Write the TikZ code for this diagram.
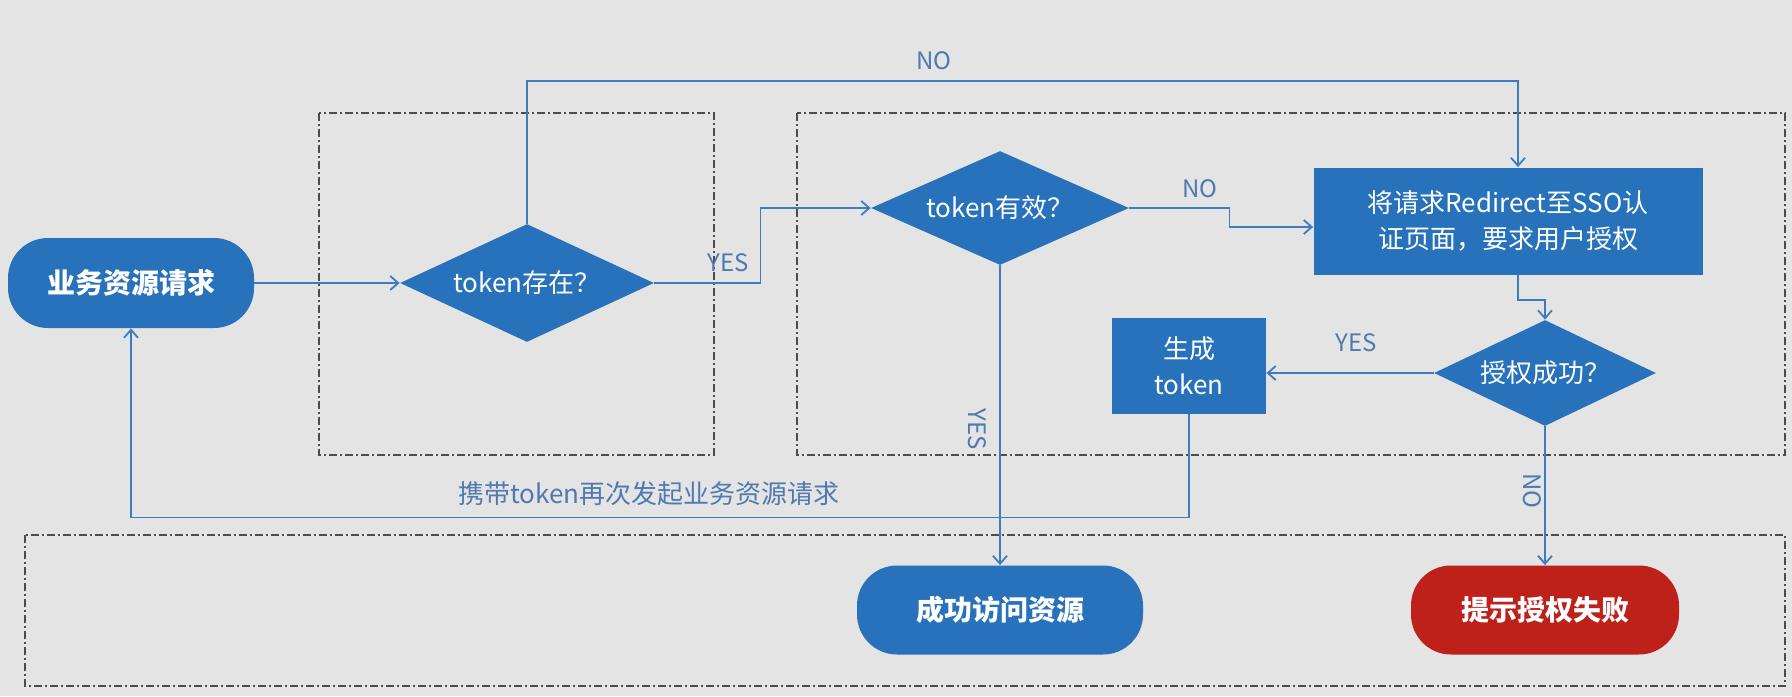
\documentclass[tikz,border=0pt]{standalone}
\usepackage{fontspec}
\newfontfamily\cjk{Noto Sans CJK SC}
\usetikzlibrary{shapes.geometric,arrows.meta}

\definecolor{flowblue}{RGB}{40,114,188}
\definecolor{flowred}{RGB}{190,32,26}
\definecolor{lineblue}{RGB}{62,124,192}
\definecolor{labelblue}{RGB}{78,122,176}
\definecolor{paper}{RGB}{228,228,228}

\tikzset{
  terminal/.style={rectangle, fill=flowblue, rounded corners=20pt, text=white, font=\cjk\bfseries\fontsize{14}{17}\selectfont},
  decision/.style={diamond, aspect=2.1, fill=flowblue, text=white, inner sep=0pt, font=\cjk\fontsize{13}{16}\selectfont},
  process/.style={rectangle, fill=flowblue, text=white, align=center, inner sep=2pt, font=\cjk\fontsize{13}{18}\selectfont},
  flow/.style={draw=lineblue, line width=0.9pt, -{Straight Barb[length=4pt,width=7pt]}},
  edgelabel/.style={text=labelblue, font=\cjk\fontsize{12}{14}\selectfont},
  zone/.style={draw=gray!60!black, line width=0.6pt, dash pattern=on 4pt off 1.5pt on 1pt off 1.5pt}
}

\begin{document}
\begin{tikzpicture}[x=0.5pt,y=-0.5pt]
  \fill[paper] (0,0) rectangle (1792,696);
  % dashed zones
  \draw[zone] (319,113) rectangle (714,455);
  \draw[zone] (797,113) rectangle (1785,455);
  \draw[zone] (25,535) rectangle (1785,686);

  % nodes
  \node[terminal, minimum width=123pt, minimum height=45pt] (start) at (131,283) {业务资源请求};
  \node[decision, minimum width=127pt, minimum height=59pt] (exist) at (527,283) {token存在？};
  \node[decision, minimum width=129pt, minimum height=57pt] (valid) at (1000,208) {token有效？};
  \node[process, minimum width=194.5pt, minimum height=53.5pt] (redirect) at (1508,221) {将请求Redirect至SSO认\\证页面，要求用户授权};
  \node[decision, minimum width=111pt, minimum height=53pt] (granted) at (1545,373) {授权成功？};
  \node[process, minimum width=77pt, minimum height=48pt] (gen) at (1189,366) {生成\\token};
  \node[terminal, minimum width=143pt, minimum height=44.5pt] (ok) at (1000,610) {成功访问资源};
  \node[terminal, fill=flowred, minimum width=134pt, minimum height=44.5pt] (fail) at (1545,610) {提示授权失败};

  % connectors
  \coordinate (loop) at (1518,81);
  \draw[flow] (start.east) -- (exist.west);
  \draw[flow] (exist.north) |- (loop) -- (loop |- redirect.north);
  \node[edgelabel] (lnotop) at (934,61) {NO};
  \draw[flow] (exist.east) -- ++(106,0) |- (valid.west);
  \node[edgelabel] (lyesa) at (728,263) {YES};
  \draw[flow] (valid.east) -- ++(100,0) |- ([yshift=-3pt]redirect.west);
  \node[edgelabel] (lnoa) at (1200,189) {NO};
  \draw[flow] ([xshift=5pt]redirect.south) -- ++(0,25) -| (granted.north);
  \draw[flow] (granted.west) -- (granted.west -| gen.east);
  \node[edgelabel] (lyesb) at (1356,343) {YES};
  \draw[flow] (gen.south) -- ++(0,103) -| (start.south);
  \node[edgelabel, font=\cjk\fontsize{13}{16}\selectfont] (lback) at (649,494) {携带token再次发起业务资源请求};
  \draw[flow] (valid.south) -- (ok.north);
  \node[edgelabel, rotate=-90] (lyesc) at (977,429) {YES};
  \draw[flow] (granted.south) -- (fail.north);
  \node[edgelabel, rotate=-90] (lnob) at (1532,491) {NO};
\end{tikzpicture}
\end{document}
